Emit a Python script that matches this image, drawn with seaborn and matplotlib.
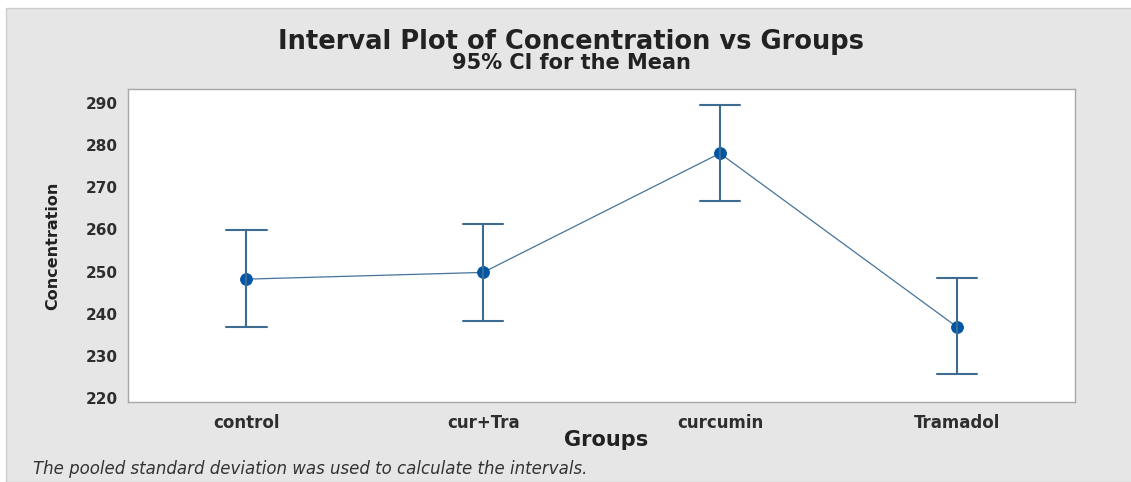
import numpy as np
import pandas as pd
import seaborn as sns
import matplotlib.pyplot as plt
from matplotlib.patches import Rectangle

# summary values
groups = ["control", "cur+Tra", "curcumin", "Tramadol"]
means = [248.2, 249.8, 278.1, 236.9]
ci_low = [236.9, 238.2, 266.7, 225.6]
ci_high = [259.9, 261.2, 289.7, 248.5]

# long table: lower / mean / upper per group -> median gives the mean, full range gives the CI
df = pd.DataFrame({
    "Groups": np.repeat(groups, 3),
    "Concentration": np.ravel(np.column_stack([ci_low, means, ci_high])),
})

sns.set_style("white")
plt.rcParams["font.family"] = ["DejaVu Sans"]

fig = plt.figure(figsize=(11.31, 4.82), dpi=100, facecolor="white")
fig.patches.append(Rectangle((6 / 1131, 0.0), 1.0, 474 / 482, transform=fig.transFigure,
                             facecolor="#e6e6e6", edgecolor="#cccccc", lw=1, zorder=-10))
ax = fig.add_axes([0.1132, 0.166, 0.8373, 0.6494])

sns.pointplot(data=df, x="Groups", y="Concentration", order=groups,
              estimator="median", errorbar=("pi", 100), capsize=0.17,
              color="#47739a", linewidth=0.9, markersize=8.5,
              err_kws={"linewidth": 1.5, "color": "#3d6b91"},
              markerfacecolor="#0055a4", markeredgecolor="#0055a4", ax=ax)

ax.set_ylim(219, 293.4)
ax.set_xlim(-0.5, 3.5)
ax.set_yticks(range(220, 291, 10))
ax.set_facecolor("white")
for s in ax.spines.values():
    s.set_color("#a8a8a8")
    s.set_linewidth(1.0)
ax.tick_params(axis="both", direction="out", length=4, width=1, color="#a0a0a0",
               labelcolor="#2e2e2e", pad=3.5)
ax.tick_params(axis="y", labelsize=11)
ax.tick_params(axis="x", labelsize=12, pad=5)
for t in ax.get_yticklabels() + ax.get_xticklabels():
    t.set_fontweight("bold")

ax.set_xlabel("Groups", fontsize=15, fontweight="bold", color="#222222", va="center")
ax.xaxis.set_label_coords(0.505, -0.121)
ax.set_ylabel("Concentration", fontsize=11.5, fontweight="bold", color="#222222", va="center")
ax.yaxis.set_label_coords(-0.079, 0.5)

fig.text(0.505, 1 - 49 / 482, "Interval Plot of Concentration vs Groups", ha="center",
         va="baseline", fontsize=18.5, fontweight="bold", color="#222222")
fig.text(0.505, 1 - 69 / 482, "95% CI for the Mean", ha="center", va="baseline",
         fontsize=15, fontweight="bold", color="#222222")
fig.text(33 / 1131, 1 - 474 / 482, "The pooled standard deviation was used to calculate the intervals.",
         ha="left", va="baseline", fontsize=12, style="italic", color="#333333")

fig.savefig("out.png", dpi=100, facecolor=fig.get_facecolor())
